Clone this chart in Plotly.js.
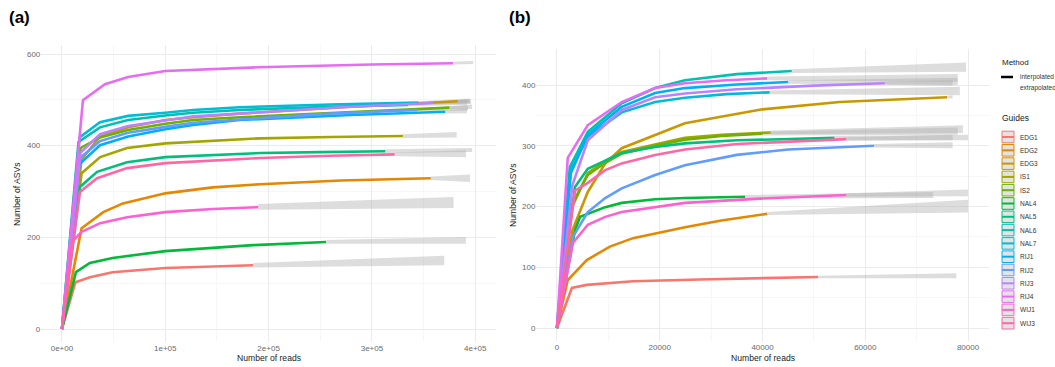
<!DOCTYPE html>
<html>
<head>
<meta charset="utf-8">
<script src="https://cdn.plot.ly/plotly-3.0.1.min.js"></script>
<style>
html,body{margin:0;padding:0;background:#fff;}
#chart{width:1055px;height:367px;}
</style>
</head>
<body>
<div id="chart"></div>
<script>
// ---------------- categories ----------------
const guides = ["EDG1","EDG2","EDG3","IS1","IS2","NAL4","NAL5","NAL6","NAL7","RIJ1","RIJ2","RIJ3","RIJ4","WIJ1","WIJ3"];
const guideColors = ["#F8766D","#E58700","#C99800","#A3A500","#6BB100","#00BA38","#00BF7D","#00C0AF","#00BCD8","#00B0F6","#619CFF","#B983FF","#E76BF3","#FD61D1","#FF67A4"];
const methods = ["interpolated","extrapolated"];

// ---------------- panel (a) tick labels ----------------
const aXTickVals = [0,100000,200000,300000,400000];
const aXTickText = ["0e+00","1e+05","2e+05","3e+05","4e+05"];
const aYTickVals = [0,200,400,600];
const bXTickVals = [0,20000,40000,60000,80000];
const bXTickText = ["0","20000","40000","60000","80000"];
const bYTickVals = [0,100,200,300,400];

// ---------------- panel (a): interpolated curves ----------------
const aEDG1x = [0,13000,27000,49000,100000,150000,185000];
const aEDG1y = [0,102,113,124,133,137,139];
const aEDG2x = [0,19000,40000,59000,100000,146000,192000,270000,357000];
const aEDG2y = [0,220,255,274,296,309,316,324,329];
const aEDG3x = [0,19000,36800,64000,100000,127000,172000,280000,383000];
const aEDG3y = [0,370,420,440,456,462,470,485,497];
const aIS1x = [0,19000,37000,63000,100000,192000,260000,330000];
const aIS1y = [0,340,375,395,405,416,419,421];
const aIS2x = [0,18000,36800,64000,100000,127000,172000,280000,375000];
const aIS2y = [0,395,418,434,448,456,462,474,483];
const aNAL4x = [0,13500,27000,49000,100000,185000,255600];
const aNAL4y = [0,124,144,155,170,183,190];
const aNAL5x = [0,17400,34000,63000,100000,192000,250000,313000];
const aNAL5y = [0,310,343,364,375,384,386,388];
const aNAL6x = [0,16000,36800,64000,100000,127000,172000,260000,335000];
const aNAL6y = [0,408,440,456,466,472,478,485,489];
const aNAL7x = [0,17000,36800,64000,100000,127000,172000,260000,345000];
const aNAL7y = [0,418,451,465,472,478,484,490,494];
const aRIJ1x = [0,17000,36800,64000,100000,127000,172000,280000,371000];
const aRIJ1y = [0,360,401,420,436,445,456,467,474];
const aRIJ2x = [0,17000,36800,64000,100000,127000,172000,260000,344000];
const aRIJ2y = [0,372,410,428,441,450,457,470,478];
const aRIJ3x = [0,18000,36800,64000,100000,127000,172000,270000,359000];
const aRIJ3y = [0,385,425,443,455,464,470,484,493];
const aRIJ4x = [0,20300,41600,64000,100000,190000,300000,378500];
const aRIJ4y = [0,499,534,550,563,571,577,580];
const aWIJ1x = [0,9700,19000,37000,63000,100000,146000,190000];
const aWIJ1y = [0,190,212,231,244,255,262,266];
const aWIJ3x = [0,17400,34000,63000,100000,192000,260000,322000];
const aWIJ3y = [0,299,329,351,362,373,378,381];

// ---------------- panel (a): extrapolated bands (x, lower, upper) ----------------
const aEDG1ex = [185000,370000]; const aEDG1lo = [134,139]; const aEDG1hi = [144,160];
const aEDG2ex = [357000,395000]; const aEDG2lo = [325,321]; const aEDG2hi = [333,337];
const aEDG3ex = [383000,394000]; const aEDG3lo = [494,494]; const aEDG3hi = [500,502];
const aIS1ex = [330000,382000]; const aIS1lo = [417,418]; const aIS1hi = [425,430];
const aIS2ex = [375000,397000]; const aIS2lo = [479,480]; const aIS2hi = [486,490];
const aNAL4ex = [255600,391000]; const aNAL4lo = [186,186]; const aNAL4hi = [194,201];
const aNAL5ex = [313000,397000]; const aNAL5lo = [384,386]; const aNAL5hi = [392,395];
const aNAL6ex = [335000,392000]; const aNAL6lo = [486,489]; const aNAL6hi = [493,500];
const aNAL7ex = [345000,395000]; const aNAL7lo = [490,492]; const aNAL7hi = [497,503];
const aRIJ1ex = [371000,392000]; const aRIJ1lo = [470,471]; const aRIJ1hi = [477,481];
const aRIJ2ex = [344000,393000]; const aRIJ2lo = [475,477]; const aRIJ2hi = [481,488];
const aRIJ3ex = [359000,396000]; const aRIJ3lo = [490,491]; const aRIJ3hi = [496,501];
const aRIJ4ex = [378500,398000]; const aRIJ4lo = [577,578]; const aRIJ4hi = [583,585];
const aWIJ1ex = [190000,379000]; const aWIJ1lo = [260,264]; const aWIJ1hi = [273,288];
const aWIJ3ex = [322000,391000]; const aWIJ3lo = [377,375]; const aWIJ3hi = [385,390];

// ---------------- panel (b): interpolated curves ----------------
const bEDG1x = [0,2900,5800,14800,27800,39500,50800];
const bEDG1y = [0,66,71,77,80,82,84];
const bEDG2x = [0,2100,5800,10300,14800,19100,24900,32000,40900];
const bEDG2y = [0,79,112,134,148,156,166,177,188];
const bEDG3x = [0,3000,6000,9400,12600,19100,24900,30000,40000,55000,75900];
const bEDG3y = [0,161,224,271,296,318,337,345,360,372,380];
const bIS1x = [0,3000,6000,9400,12600,19100,24900,32000,41600];
const bIS1y = [0,200,255,275,290,302,313,318,322];
const bIS2x = [0,3000,6000,9400,12600,19100,24900,32000,40000];
const bIS2y = [0,205,252,272,287,300,310,316,320];
const bNAL4x = [0,3500,4500,9400,12600,19100,24900,36600];
const bNAL4y = [0,161,183,199,206,212,214,216];
const bNAL5x = [0,3500,6000,9400,12600,19100,24900,35000,54000];
const bNAL5y = [0,232,262,276,288,298,304,309,313];
const bNAL6x = [0,2500,6000,12600,19100,24900,35000,45700];
const bNAL6y = [0,265,323,370,395,408,418,423];
const bNAL7x = [0,2700,6000,12600,19100,24900,33000,41400];
const bNAL7y = [0,260,315,355,372,379,385,388];
const bRIJ1x = [0,2700,6000,12600,19100,24900,35000,45000];
const bRIJ1y = [0,255,318,364,387,395,401,405];
const bRIJ2x = [0,3100,6000,9400,12600,19100,24900,35000,45000,61700];
const bRIJ2y = [0,150,191,214,230,252,268,285,294,300];
const bRIJ3x = [0,3000,6000,12600,19100,24900,35000,50000,63800];
const bRIJ3y = [0,235,309,359,380,386,393,399,403];
const bRIJ4x = [0,2100,6000,12600,19100,24900,33000,40900];
const bRIJ4y = [0,280,334,372,395,403,408,411];
const bWIJ1x = [0,3100,6000,9400,12600,19100,24900,39500,56300];
const bWIJ1y = [0,140,170,183,191,199,206,213,219];
const bWIJ3x = [0,3500,6000,9400,12600,19100,24900,35000,56300];
const bWIJ3y = [0,226,239,260,271,285,294,303,311];

// ---------------- panel (b): extrapolated bands ----------------
const bEDG1ex = [50800,77700]; const bEDG1lo = [82,82]; const bEDG1hi = [86,90];
const bEDG2ex = [40900,80000]; const bEDG2lo = [186,190]; const bEDG2hi = [191,211];
const bEDG3ex = [75900,77000]; const bEDG3lo = [378,378]; const bEDG3hi = [382,383];
const bIS1ex = [41600,79000]; const bIS1lo = [319,321]; const bIS1hi = [325,334];
const bIS2ex = [40000,78000]; const bIS2lo = [317,318]; const bIS2hi = [323,330];
const bNAL4ex = [36600,73200]; const bNAL4lo = [213,214]; const bNAL4hi = [219,224];
const bNAL5ex = [54000,80000]; const bNAL5lo = [310,309]; const bNAL5hi = [316,318];
const bNAL6ex = [45700,79600]; const bNAL6lo = [420,422]; const bNAL6hi = [426,437];
const bNAL7ex = [41400,78400]; const bNAL7lo = [385,383]; const bNAL7hi = [391,397];
const bRIJ1ex = [45000,78000]; const bRIJ1lo = [402,400]; const bRIJ1hi = [408,412];
const bRIJ2ex = [61700,77000]; const bRIJ2lo = [297,296]; const bRIJ2hi = [303,306];
const bRIJ3ex = [63800,77000]; const bRIJ3lo = [400,399]; const bRIJ3hi = [406,408];
const bRIJ4ex = [40900,78000]; const bRIJ4lo = [408,405]; const bRIJ4hi = [414,418];
const bWIJ1ex = [56300,80000]; const bWIJ1lo = [216,217]; const bWIJ1hi = [222,228];
const bWIJ3ex = [56300,77000]; const bWIJ3lo = [308,309]; const bWIJ3hi = [314,318];

// ---------------- build tables from the arrays ----------------
const panelA = {
  EDG1:[aEDG1x,aEDG1y,aEDG1ex,aEDG1lo,aEDG1hi], EDG2:[aEDG2x,aEDG2y,aEDG2ex,aEDG2lo,aEDG2hi],
  EDG3:[aEDG3x,aEDG3y,aEDG3ex,aEDG3lo,aEDG3hi], IS1:[aIS1x,aIS1y,aIS1ex,aIS1lo,aIS1hi],
  IS2:[aIS2x,aIS2y,aIS2ex,aIS2lo,aIS2hi], NAL4:[aNAL4x,aNAL4y,aNAL4ex,aNAL4lo,aNAL4hi],
  NAL5:[aNAL5x,aNAL5y,aNAL5ex,aNAL5lo,aNAL5hi], NAL6:[aNAL6x,aNAL6y,aNAL6ex,aNAL6lo,aNAL6hi],
  NAL7:[aNAL7x,aNAL7y,aNAL7ex,aNAL7lo,aNAL7hi], RIJ1:[aRIJ1x,aRIJ1y,aRIJ1ex,aRIJ1lo,aRIJ1hi],
  RIJ2:[aRIJ2x,aRIJ2y,aRIJ2ex,aRIJ2lo,aRIJ2hi], RIJ3:[aRIJ3x,aRIJ3y,aRIJ3ex,aRIJ3lo,aRIJ3hi],
  RIJ4:[aRIJ4x,aRIJ4y,aRIJ4ex,aRIJ4lo,aRIJ4hi], WIJ1:[aWIJ1x,aWIJ1y,aWIJ1ex,aWIJ1lo,aWIJ1hi],
  WIJ3:[aWIJ3x,aWIJ3y,aWIJ3ex,aWIJ3lo,aWIJ3hi]
};
const panelB = {
  EDG1:[bEDG1x,bEDG1y,bEDG1ex,bEDG1lo,bEDG1hi], EDG2:[bEDG2x,bEDG2y,bEDG2ex,bEDG2lo,bEDG2hi],
  EDG3:[bEDG3x,bEDG3y,bEDG3ex,bEDG3lo,bEDG3hi], IS1:[bIS1x,bIS1y,bIS1ex,bIS1lo,bIS1hi],
  IS2:[bIS2x,bIS2y,bIS2ex,bIS2lo,bIS2hi], NAL4:[bNAL4x,bNAL4y,bNAL4ex,bNAL4lo,bNAL4hi],
  NAL5:[bNAL5x,bNAL5y,bNAL5ex,bNAL5lo,bNAL5hi], NAL6:[bNAL6x,bNAL6y,bNAL6ex,bNAL6lo,bNAL6hi],
  NAL7:[bNAL7x,bNAL7y,bNAL7ex,bNAL7lo,bNAL7hi], RIJ1:[bRIJ1x,bRIJ1y,bRIJ1ex,bRIJ1lo,bRIJ1hi],
  RIJ2:[bRIJ2x,bRIJ2y,bRIJ2ex,bRIJ2lo,bRIJ2hi], RIJ3:[bRIJ3x,bRIJ3y,bRIJ3ex,bRIJ3lo,bRIJ3hi],
  RIJ4:[bRIJ4x,bRIJ4y,bRIJ4ex,bRIJ4lo,bRIJ4hi], WIJ1:[bWIJ1x,bWIJ1y,bWIJ1ex,bWIJ1lo,bWIJ1hi],
  WIJ3:[bWIJ3x,bWIJ3y,bWIJ3ex,bWIJ3lo,bWIJ3hi]
};

const W = 1055, H = 367;
const px = p => p / W;
const py = p => 1 - p / H;
const FONT = "Liberation Sans, Arial, sans-serif";
const BAND = "rgba(175,175,175,0.42)";

const traces = [];
function addPanel(panel, xa, ya) {
  // ribbons first
  guides.forEach(g => {
    const d = panel[g];
    const ex = d[2], lo = d[3], hi = d[4];
    traces.push({
      type: "scatter", mode: "lines", xaxis: xa, yaxis: ya,
      x: ex.concat(ex.slice().reverse()),
      y: lo.concat(hi.slice().reverse()),
      fill: "toself", fillcolor: BAND, line: {width: 0},
      hoverinfo: "skip", showlegend: false
    });
  });
  guides.forEach((g, i) => {
    const d = panel[g];
    traces.push({
      type: "scatter", mode: "lines", xaxis: xa, yaxis: ya,
      x: d[0], y: d[1], name: g,
      line: {color: guideColors[i], width: 2.6},
      hoverinfo: "skip", showlegend: false
    });
  });
}
addPanel(panelA, "x", "y");
addPanel(panelB, "x2", "y2");

const gridCol = "#EBEBEB";
const tickFont = {family: FONT, size: 8, color: "#6a6a6a"};
function axisBase() {
  return {
    showgrid: true, gridcolor: gridCol, gridwidth: 1,
    zeroline: false, showline: false, ticks: "",
    tickfont: tickFont, fixedrange: true
  };
}

const layout = {
  width: W, height: H,
  margin: {l: 0, r: 0, t: 0, b: 0},
  paper_bgcolor: "#fff", plot_bgcolor: "#fff",
  showlegend: false,
  font: {family: FONT},
  xaxis: Object.assign(axisBase(), {
    domain: [px(41.3), px(495.9)], range: [-20000, 420000], anchor: "y",
    tickmode: "array", tickvals: aXTickVals, ticktext: aXTickText,
    minor: {tickvals: [50000,150000,250000,350000], showgrid: true, gridcolor: "#F2F2F2", gridwidth: 0.6, ticks: ""}
  }),
  yaxis: Object.assign(axisBase(), {
    domain: [py(342.3), py(45.3)], range: [-29, 619], anchor: "x",
    tickmode: "array", tickvals: aYTickVals, ticktext: aYTickVals.map(String),
    minor: {tickvals: [100,300,500], showgrid: true, gridcolor: "#F2F2F2", gridwidth: 0.6, ticks: ""}
  }),
  xaxis2: Object.assign(axisBase(), {
    domain: [px(536.4), px(988.6)], range: [-4000, 84000], anchor: "y2",
    tickmode: "array", tickvals: bXTickVals, ticktext: bXTickText,
    minor: {tickvals: [10000,30000,50000,70000], showgrid: true, gridcolor: "#F2F2F2", gridwidth: 0.6, ticks: ""}
  }),
  yaxis2: Object.assign(axisBase(), {
    domain: [py(341.4), py(49.2)], range: [-22, 459], anchor: "x2",
    tickmode: "array", tickvals: bYTickVals, ticktext: bYTickVals.map(String),
    minor: {tickvals: [50,150,250,350], showgrid: true, gridcolor: "#F2F2F2", gridwidth: 0.6, ticks: ""}
  }),
  shapes: [],
  annotations: []
};

function ann(text, x, y, opts) {
  layout.annotations.push(Object.assign({
    text: text, xref: "paper", yref: "paper", x: px(x), y: py(y),
    showarrow: false, xanchor: "left", yanchor: "middle",
    font: {family: FONT, size: 8, color: "#222"}
  }, opts || {}));
}

// panel labels
ann("<b>(a)</b>", 7, 17, {font: {family: FONT, size: 17, color: "#000"}});
ann("<b>(b)</b>", 507, 17, {font: {family: FONT, size: 17, color: "#000"}});
// axis titles
ann("Number of reads", 268.6, 358, {xanchor: "center", font: {family: FONT, size: 8.6, color: "#222"}});
ann("Number of reads", 762.5, 358, {xanchor: "center", font: {family: FONT, size: 8.6, color: "#222"}});
ann("Number of ASVs", 17, 194, {xanchor: "center", textangle: -90, font: {family: FONT, size: 8.6, color: "#222"}});
ann("Number of ASVs", 513, 195, {xanchor: "center", textangle: -90, font: {family: FONT, size: 8.6, color: "#222"}});

// legend: Method
ann("Method", 1000, 63, {font: {family: FONT, size: 8, color: "#222"}});
layout.shapes.push({type: "line", xref: "paper", yref: "paper", x0: px(1001), x1: px(1013), y0: py(77), y1: py(77), line: {color: "#000", width: 2.5}});
methods.forEach((m, i) => ann(m, 1018, 77 + i * 11, {font: {family: FONT, size: 6.5, color: "#333"}}));

// legend: Guides
ann("Guides", 1000, 118, {font: {family: FONT, size: 8.5, color: "#222"}});
guides.forEach((g, i) => {
  const cy = 137 + i * 13.3;
  layout.shapes.push({type: "rect", xref: "paper", yref: "paper",
    x0: px(1002), x1: px(1014), y0: py(cy + 5.8), y1: py(cy - 5.8),
    fillcolor: "#E3E3E3", line: {color: guideColors[i], width: 1}});
  layout.shapes.push({type: "line", xref: "paper", yref: "paper",
    x0: px(1002), x1: px(1014), y0: py(cy), y1: py(cy),
    line: {color: guideColors[i], width: 2}});
  ann(g, 1018, cy, {font: {family: FONT, size: 6.5, color: "#333"}});
});

Plotly.newPlot("chart", traces, layout, {displayModeBar: false, staticPlot: true});
</script>
</body>
</html>
